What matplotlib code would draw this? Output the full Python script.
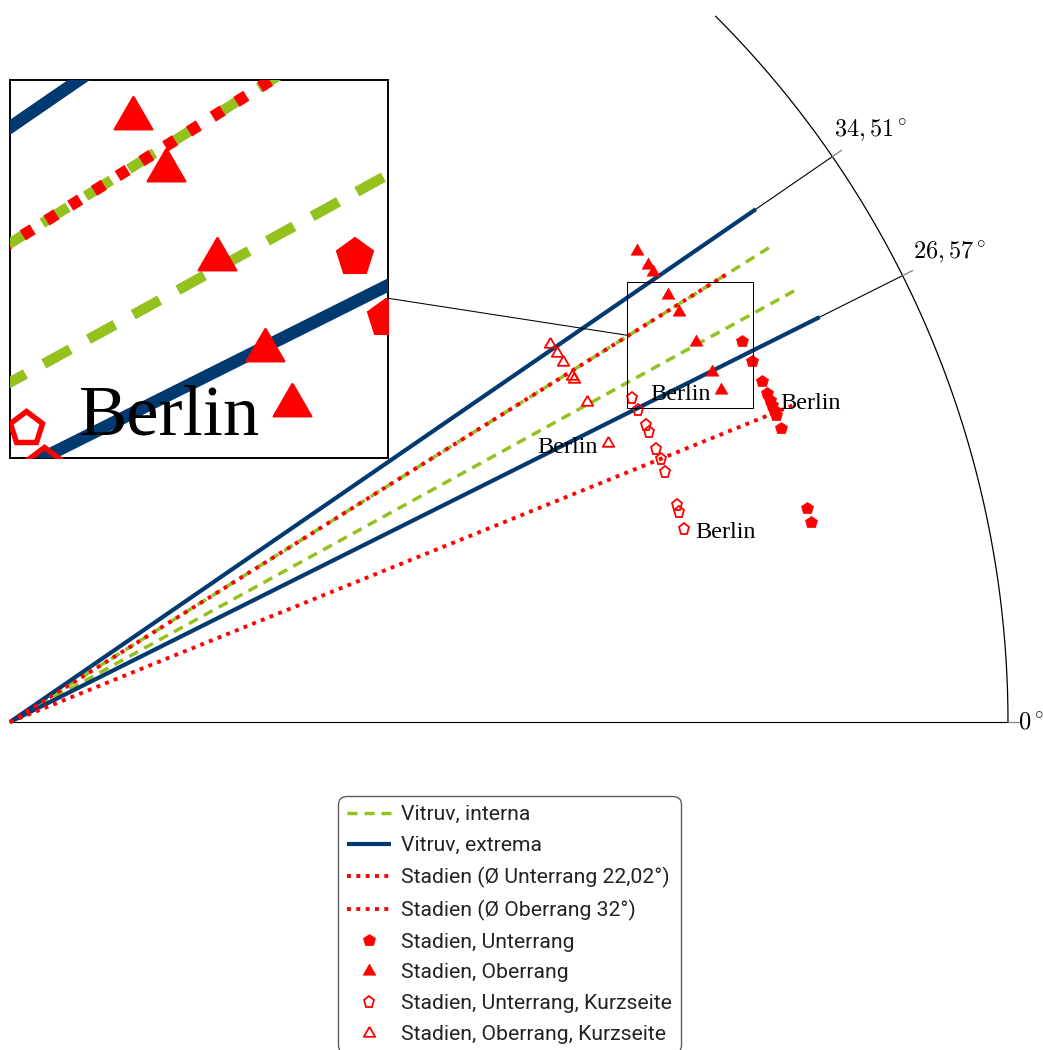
import numpy as np
import matplotlib
matplotlib.use("Agg")
import matplotlib.pyplot as plt
from matplotlib.lines import Line2D
from matplotlib.patches import Rectangle

plt.rcParams['mathtext.fontset'] = 'cm'

# ---- angles (degrees) -------------------------------------------------------
vitruv_interna = [32.0, 28.8]
vitruv_extrema = [34.51, 26.57]
mean_unterrang = 22.02
mean_oberrang = 32.0

unterrang_deg = [27.5, 25.9, 24.4, 23.5, 23.0, 22.6, 22.2, 21.8, 20.9, 15.0, 14.0]
oberrang_deg = [36.9, 35.6, 35.0, 33.0, 31.5, 29.0, 26.5, 25.0]
unterrang_kurz_deg = [27.5, 26.4, 25.0, 24.4, 22.9, 22.0, 20.9, 18.0, 17.4, 16.0]
oberrang_kurz_deg = [35.0, 34.0, 33.1, 31.6, 31.3, 29.0, 25.0]

# Berlin entries within each series
berlin_unterrang = 23.0
berlin_oberrang = 25.0
berlin_unterrang_kurz = 16.0
berlin_oberrang_kurz = 25.0

# radial ring on which each series is drawn
r_unterrang = 0.827
r_oberrang = 0.786
r_unterrang_kurz = 0.703
r_oberrang_kurz = 0.661
r_extrema = 0.907
r_interna = 0.903
r_mean = 0.848

tick_angles = [0.0, 26.57, 34.51]
tick_labels = [r'$0^\circ$', r'$26,57^\circ$', r'$34,51^\circ$']
theta_max = 45.0

GREEN = '#95c11f'
BLUE = '#003a70'
RED = '#ff0000'
TRI = [(0, 1), (-0.866, -0.5), (0.866, -0.5), (0, 1)]


def to_xy(deg, r):
    t = np.radians(np.asarray(deg, dtype=float))
    r = np.asarray(r, dtype=float)
    return r * np.cos(t), r * np.sin(t)


def draw(ax, k, legend):
    def lab(s, i=0):
        return s if (legend and i == 0) else '_nolegend_'

    for i, a in enumerate(vitruv_interna):
        x, y = to_xy(a, [0, r_interna])
        ax.plot(x, y, color=GREEN, lw=2.5 * k, ls=(0, (2.9, 2.0)),
                dash_capstyle='butt', zorder=3, label=lab('Vitruv, interna', i))
    for i, a in enumerate(vitruv_extrema):
        x, y = to_xy(a, [0, r_extrema])
        ax.plot(x, y, color=BLUE, lw=3.0 * k, solid_capstyle='butt', zorder=3,
                label=lab('Vitruv, extrema', i))
    x, y = to_xy(mean_unterrang, [0, r_mean])
    ax.plot(x, y, color=RED, lw=2.8 * k, ls=(0, (1, 1.4)), dash_capstyle='butt',
            zorder=4, label=lab('Stadien (Ø Unterrang 22,02°)'))
    x, y = to_xy(mean_oberrang, [0, r_mean])
    ax.plot(x, y, color=RED, lw=2.8 * k, ls=(0, (1, 1.4)), dash_capstyle='butt',
            zorder=4, label=lab('Stadien (Ø Oberrang 32°)'))

    x, y = to_xy(unterrang_deg, r_unterrang)
    ax.plot(x, y, ls='none', marker='p', ms=9.2 * k, mfc=RED, mec=RED,
            mew=0.5 * k, zorder=6, label=lab('Stadien, Unterrang'))
    x, y = to_xy(oberrang_deg, r_oberrang)
    ax.plot(x, y, ls='none', marker=TRI, ms=10.5 * k, mfc=RED, mec=RED,
            mew=0.5 * k, zorder=6, label=lab('Stadien, Oberrang'))
    x, y = to_xy(unterrang_kurz_deg, r_unterrang_kurz)
    ax.plot(x, y, ls='none', marker='p', ms=8.3 * k, mfc='none', mec=RED,
            mew=1.3 * k, zorder=6, label=lab('Stadien, Unterrang, Kurzseite'))
    x, y = to_xy(oberrang_kurz_deg, r_oberrang_kurz)
    ax.plot(x, y, ls='none', marker=TRI, ms=9.5 * k, mfc='none', mec=RED,
            mew=1.3 * k, zorder=6, label=lab('Stadien, Oberrang, Kurzseite'))

    notes = [(berlin_oberrang, r_oberrang, 'right'),
             (berlin_unterrang, r_unterrang, 'left'),
             (berlin_oberrang_kurz, r_oberrang_kurz, 'right'),
             (berlin_unterrang_kurz, r_unterrang_kurz, 'left')]
    for a, r, ha in notes:
        px, py = to_xy(a, r)
        dx = -7.6 if ha == 'right' else 7.6
        ax.annotate('Berlin', xy=(float(px), float(py)), xytext=(dx * k, -7.0 * k),
                    textcoords='offset points', ha=ha, va='baseline',
                    family='Liberation Serif', fontsize=17.4 * k, zorder=7,
                    clip_on=True)


fig = plt.figure(figsize=(10.43, 10.50), dpi=100)
W, H = 1043.0, 1050.0
ox, oy, R = 10.0, 722.0, 998.0   # placement of the pole and unit radius (pixels)

ax = fig.add_axes([0, 0, 1, 1])
ax.set_xlim(-ox / R, (W - ox) / R)
ax.set_ylim(-(H - oy) / R, oy / R)
ax.axis('off')
renderer = fig.canvas.get_renderer()

# polar frame: outer arc, 0° axis, grid lines, ticks and labels
th = np.linspace(0, theta_max, 400)
ax.plot(*to_xy(th, 1.0), color='k', lw=0.9, zorder=2)
for a, t in zip(tick_angles, tick_labels):
    ax.plot(*to_xy(a, [0, 1.0]), color='k', lw=0.8, zorder=2)
    ax.plot(*to_xy(a, [1.0, 1.011]), color='#808080', lw=0.9, zorder=2)
    if a == 0:
        tx, ty = to_xy(a, 1.010)
        ax.text(tx, ty, t, ha='left', va='center', fontsize=17.5)
    else:
        # label box anchored on its side facing the pole
        anchor = ax.transData.transform(np.array(to_xy(a, 1.024)))
        txt = ax.text(0, 0, t, ha='center', va='center', fontsize=17.5)
        bb = txt.get_window_extent(renderer)
        u = -np.array([np.cos(np.radians(a)), np.sin(np.radians(a))])
        s = min((bb.width / 2) / abs(u[0]), (bb.height / 2) / abs(u[1]))
        centre = anchor - s * u
        txt.set_position(ax.transData.inverted().transform(centre))

draw(ax, 1, True)

# magnified region
zx0, zx1 = 617 / R, 743 / R
zy0, zy1 = 314 / R, 440 / R
ax.add_patch(Rectangle((zx0, zy0), zx1 - zx0, zy1 - zy0, fill=False,
                       ec='k', lw=0.75, zorder=8))

axin = fig.add_axes([10 / W, (H - 458) / H, 378 / W, 378 / H])
axin.set_xlim(zx0, zx1)
axin.set_ylim(zy0, zy1)
axin.set_xticks([])
axin.set_yticks([])
for s in axin.spines.values():
    s.set_color('k')
    s.set_linewidth(1.4)
draw(axin, 3, False)

# connector between the two frames, along the line joining their centres
c1 = ax.transData.transform(((zx0 + zx1) / 2, (zy0 + zy1) / 2))
b1 = ax.transData.transform((zx1, zy1)) - c1
c2 = axin.transAxes.transform((0.5, 0.5))
b2 = axin.transAxes.transform((1, 1)) - c2
d = c1 - c2
t2 = min(b2[0] / abs(d[0]), b2[1] / abs(d[1]))
t1 = min(b1[0] / abs(d[0]), b1[1] / abs(d[1]))
p2 = c2 + d * t2
p1 = c1 - d * t1
inv = fig.transFigure.inverted()
q1, q2 = inv.transform(p1), inv.transform(p2)
fig.add_artist(Line2D([q2[0], q1[0]], [q2[1], q1[1]], color='k', lw=0.75,
                      transform=fig.transFigure))

leg = ax.legend(loc='upper center', bbox_to_anchor=(509.5 / W, (H - 796) / H),
                bbox_transform=fig.transFigure, prop={'family': 'Roboto', 'size': 15.2},
                handlelength=2.1, handletextpad=0.45, labelspacing=0.56,
                borderpad=0.43, borderaxespad=0.0, numpoints=1, frameon=True,
                fancybox=True)
leg.get_frame().set_edgecolor('#333333')
leg.get_frame().set_linewidth(1.0)
leg.get_frame().set_boxstyle('round,pad=0,rounding_size=0.4')
for txt in leg.get_texts():
    txt.set_color('#222222')
leg.set_zorder(10)

fig.savefig('out.png', dpi=100)
